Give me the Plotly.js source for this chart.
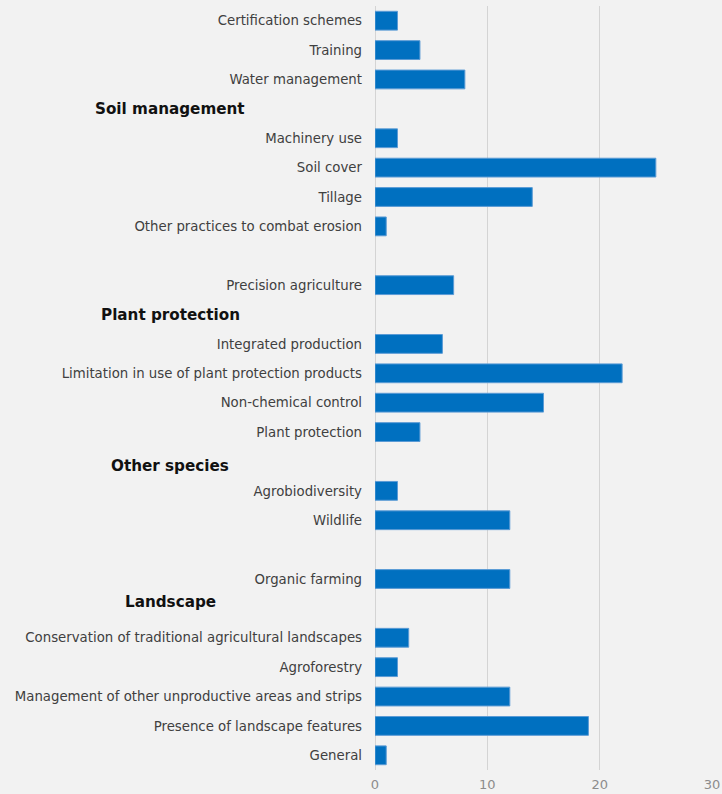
<!DOCTYPE html>
<html>
<head>
<meta charset="utf-8">
<script src="https://cdn.plot.ly/plotly-3.0.1.min.js"></script>
<style>html,body{margin:0;padding:0;background:#f2f2f2;}#chart{width:722px;height:794px;}</style>
</head>
<body>
<div id="chart"></div>
<script>
// Row labels (top to bottom); header rows and blank rows carry no bar
const labels = [
  "Certification schemes", "Training", "Water management",
  "Soil management",
  "Machinery use", "Soil cover", "Tillage", "Other practices to combat erosion",
  "",
  "Precision agriculture",
  "Plant protection",
  "Integrated production", "Limitation in use of plant protection products", "Non-chemical control", "Plant protection",
  "Other species",
  "Agrobiodiversity", "Wildlife",
  "",
  "Organic farming",
  "Landscape",
  "Conservation of traditional agricultural landscapes", "Agroforestry",
  "Management of other unproductive areas and strips", "Presence of landscape features", "General"
];
const values = [
  2, 4, 8,
  null,
  2, 25, 14, 1,
  null,
  7,
  null,
  6, 22, 15, 4,
  null,
  2, 12,
  null,
  12,
  null,
  3, 2, 12, 19, 1
];
const isHeader = [
  0,0,0,
  1,
  0,0,0,0,
  0,
  0,
  1,
  0,0,0,0,
  1,
  0,0,
  0,
  0,
  1,
  0,0,0,0,0
];
const headerShift = {"Soil management": 0, "Plant protection": 0, "Other species": -5, "Landscape": 6};
const xTicks = [0, 10, 20, 30];

const idx = labels.map((_, i) => i);
const barIdx = idx.filter(i => values[i] !== null);

const trace = {
  type: 'bar',
  orientation: 'h',
  x: barIdx.map(i => values[i]),
  y: barIdx,
  marker: {color: '#0070c0', line: {color: '#5b9bd5', width: 1}},
  hoverinfo: 'x'
};

const annotations = idx.filter(i => isHeader[i]).map(i => ({
  xref: 'paper', yref: 'y',
  x: -0.607, y: i,
  xanchor: 'center', yanchor: 'middle',
  yshift: headerShift[labels[i]] || 0,
  text: '<b>' + labels[i] + '</b>',
  showarrow: false,
  font: {family: 'DejaVu Sans, Verdana, sans-serif', size: 15.2, color: '#111111'}
}));

const layout = {
  width: 722, height: 794,
  paper_bgcolor: '#f2f2f2',
  plot_bgcolor: '#f2f2f2',
  margin: {l: 375, r: 10, t: 6, b: 24},
  bargap: 0.36,
  showlegend: false,
  xaxis: {
    range: [0, 30],
    tickvals: xTicks,
    ticktext: xTicks.map(String),
    showgrid: true,
    gridcolor: '#d4d4d4',
    gridwidth: 1,
    zeroline: true,
    zerolinecolor: '#d4d4d4',
    zerolinewidth: 1,
    showline: false,
    ticks: '',
    ticklabelstandoff: 5,
    tickfont: {family: 'DejaVu Sans, Verdana, sans-serif', size: 13, color: '#8c8c8c'}
  },
  yaxis: {
    range: [labels.length - 0.5, -0.5],
    tickmode: 'array',
    tickvals: barIdx,
    ticktext: barIdx.map(i => labels[i]),
    showgrid: false,
    zeroline: false,
    showline: false,
    ticks: '',
    ticklabelstandoff: 12,
    tickfont: {family: 'DejaVu Sans, Verdana, sans-serif', size: 13.3, color: '#404040'}
  },
  annotations: annotations
};

Plotly.newPlot('chart', [trace], layout, {displayModeBar: false, staticPlot: true});
</script>
</body>
</html>
